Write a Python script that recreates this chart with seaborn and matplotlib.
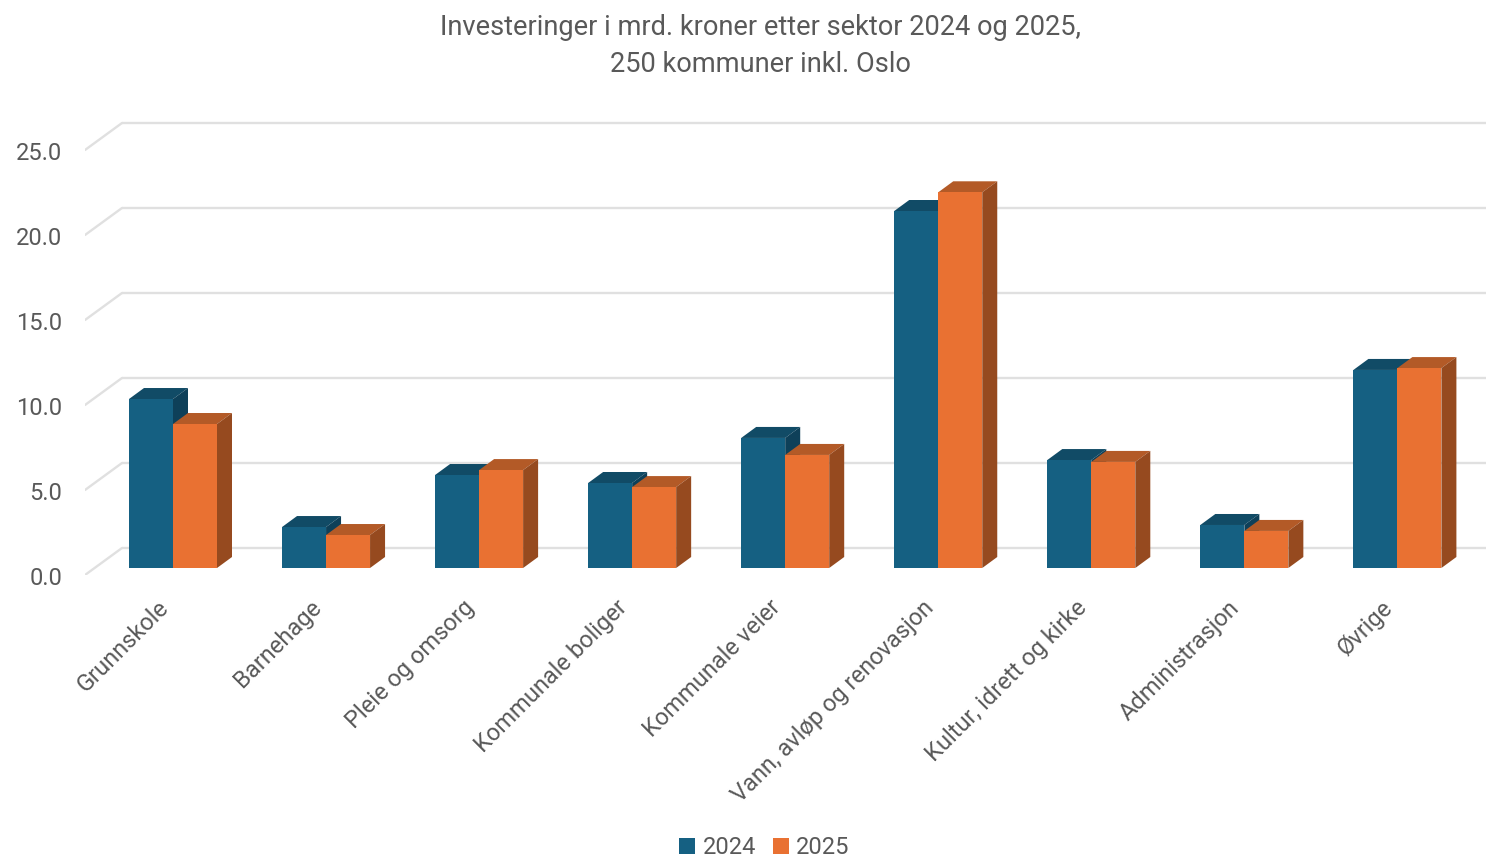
import matplotlib
matplotlib.use("Agg")
import matplotlib.pyplot as plt
import pandas as pd
import seaborn as sns
from matplotlib.patches import Polygon
from matplotlib.transforms import ScaledTranslation

sectors = ["Grunnskole", "Barnehage", "Pleie og omsorg", "Kommunale boliger", "Kommunale veier",
           "Vann, avløp og renovasjon", "Kultur, idrett og kirke", "Administrasjon", "Øvrige"]
values_2024 = [9.94, 2.41, 5.47, 5.0, 7.65, 21.0, 6.35, 2.53, 11.65]
values_2025 = [8.47, 1.94, 5.76, 4.76, 6.65, 22.1, 6.24, 2.18, 11.76]
y_ticks = [0, 5, 10, 15, 20, 25]

W, H = 1486, 858
TEXT = "#595959"
GRID = "#e0e0e0"
FRONT = {"2024": "#156082", "2025": "#E97132"}
TOP = {"2024": "#114b66", "2025": "#b35a27"}
SIDE = {"2024": "#0e4059", "2025": "#964a1f"}

sns.set_theme(style="white")
plt.rcParams["font.family"] = ["Roboto", "DejaVu Sans"]

df = pd.DataFrame({
    "sektor": sectors * 2,
    "år": ["2024"] * len(sectors) + ["2025"] * len(sectors),
    "verdi": values_2024 + values_2025,
})

fig = plt.figure(figsize=(W / 100, H / 100), dpi=100)
# axes in pixels: left wall at x=85, floor front at y=575, top at y=115
ax = fig.add_axes([85 / W, 1 - 575 / H, (W - 85) / W, (575 - 115) / H])

sns.barplot(data=df, x="sektor", y="verdi", hue="år", palette=FRONT, order=sectors,
            width=0.575, gap=0, saturation=1, errorbar=None, linewidth=0, ax=ax)

PX_X = 1 / 153.05
PX_Y = 1 / 17
ax.set_xlim(-88 * PX_X, (W - 173) * PX_X)
ax.set_ylim(-7 * PX_Y, (568 - 115) * PX_Y)

# fake 3D depth, built from the bars seaborn drew
dx, dy = 15 * PX_X, 11 * PX_Y
for i, (container, year) in enumerate(zip(ax.containers, ["2024", "2025"])):
    for bar in container:
        x0, w, h = bar.get_x(), bar.get_width(), bar.get_height()
        x1 = x0 + w
        bar.set_zorder(3 + 2 * i)
        ax.add_patch(Polygon([(x0, h), (x0 + dx, h + dy), (x1 + dx, h + dy), (x1, h)],
                             facecolor=TOP[year], edgecolor="none", zorder=2 + 2 * i))
        ax.add_patch(Polygon([(x1, 0), (x1 + dx, dy), (x1 + dx, h + dy), (x1, h)],
                             facecolor=SIDE[year], edgecolor="none", zorder=2 + 2 * i))

# back wall and left wall lines
x_left = ax.get_xlim()[0]
x_back = x_left + 37 * PX_X
for v in y_ticks:
    ax.plot([x_back, ax.get_xlim()[1]], [v + 20 * PX_Y] * 2, color=GRID, lw=1.7, zorder=1,
            solid_capstyle="butt")
    ax.plot([x_left, x_back], [v - 7 * PX_Y, v + 20 * PX_Y], color=GRID, lw=1.7, zorder=1)

sns.despine(ax=ax, left=True, bottom=True)
ax.set_xlabel("")
ax.set_ylabel("")
ax.set_yticks(y_ticks)
ax.set_yticklabels([f"{v:.1f}" for v in y_ticks])
ax.tick_params(axis="y", length=0, pad=16.5, labelsize=17, labelcolor=TEXT)
ax.tick_params(axis="x", length=0, pad=21, labelsize=17, labelcolor=TEXT)

# y labels sit at the front of the wall, a little below the value
shift = ScaledTranslation(0, -8 / 100, fig.dpi_scale_trans)
for label in ax.get_yticklabels():
    label.set_transform(label.get_transform() + shift)

ax.set_xticks(range(len(sectors)))
ax.set_xticklabels(sectors, rotation=45, ha="right", va="center", rotation_mode="anchor")
shift_x = ScaledTranslation(-8 / 100, 0, fig.dpi_scale_trans)
for label in ax.get_xticklabels():
    label.set_transform(label.get_transform() + shift_x)

fig.text(760 / W, 1 - 46 / H, "Investeringer i mrd. kroner etter sektor 2024 og 2025,\n250 kommuner inkl. Oslo",
         ha="center", va="center", fontsize=19.6, color=TEXT, linespacing=1.5)

sns.move_legend(ax, "center", bbox_to_anchor=(764.5 / W, 1 - 848 / H), bbox_transform=fig.transFigure,
                ncol=2, frameon=False, title=None, fontsize=17, labelcolor=TEXT,
                handlelength=0.68, handleheight=0.68, handletextpad=0.3, columnspacing=0.72)

fig.savefig("out.png", dpi=100)
